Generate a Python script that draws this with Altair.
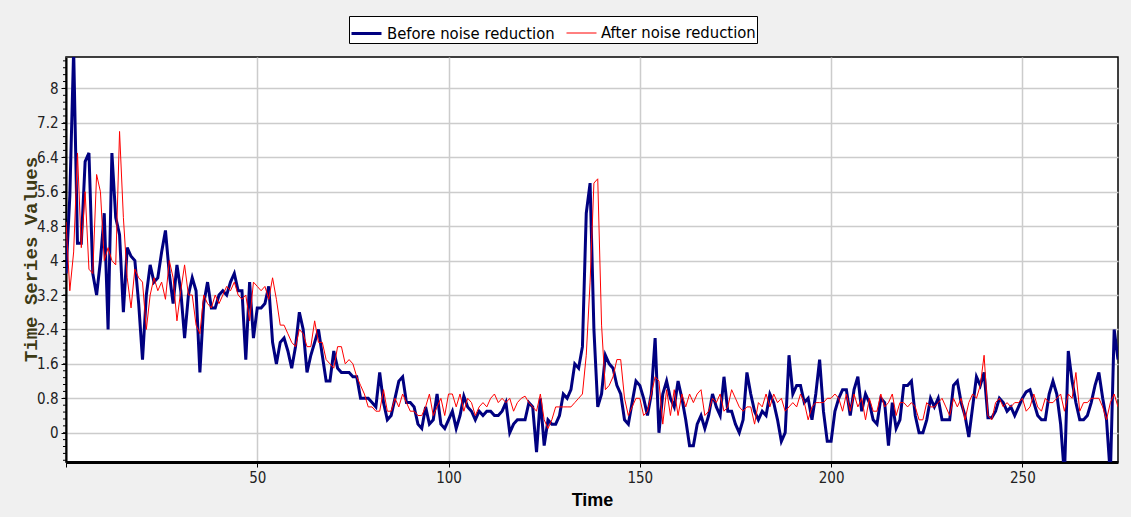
import altair as alt
import pandas as pd

# ---- data (Time 0..275) ----
before_0_50 = [3.7, 5.5, 8.9, 4.4, 4.4, 6.3, 6.5, 3.7, 3.2, 4.0, 5.1, 2.4, 6.5, 5.0, 4.6, 2.8, 4.3, 4.1, 4.0, 3.0,
               1.7, 3.2, 3.9, 3.5, 3.6, 4.2, 4.7, 3.7, 3.0, 3.9, 3.3, 2.2, 3.2, 3.6, 3.3, 1.4, 3.0, 3.5, 2.9, 2.9,
               3.2, 3.3, 3.2, 3.5, 3.7, 3.3, 3.3, 1.7, 3.5, 2.2, 2.9]
before_51_100 = [2.9, 3.0, 3.4, 2.1, 1.6, 2.1, 2.2, 1.9, 1.5, 2.0, 2.8, 2.4, 1.4, 1.8, 2.1, 2.4, 1.8, 1.2, 1.2, 1.9,
                 1.5, 1.4, 1.4, 1.4, 1.3, 1.3, 0.8, 0.8, 0.8, 0.7, 0.6, 1.4, 0.7, 0.3, 0.4, 0.8, 1.2, 1.3, 0.7, 0.7,
                 0.6, 0.2, 0.1, 0.6, 0.2, 0.3, 0.9, 0.2, 0.1, 0.3]
before_101_150 = [0.5, 0.1, 0.4, 0.85, 0.6, 0.5, 0.3, 0.5, 0.4, 0.5, 0.5, 0.4, 0.4, 0.5, 0.7, 0.0, 0.2, 0.3, 0.3, 0.3,
                  0.7, 0.6, -0.45, 0.8, -0.3, 0.3, 0.2, 0.2, 0.4, 0.9, 0.8, 1.0, 1.6, 1.5, 2.0, 5.1, 5.8, 2.4, 0.6, 0.9,
                  1.8, 1.6, 1.5, 1.1, 0.9, 0.3, 0.2, 0.7, 1.2, 1.1]
before_151_200 = [0.8, 0.4, 0.9, 2.2, 0.0, 0.9, 1.2, 0.8, 0.6, 1.2, 0.8, 0.3, -0.3, -0.3, 0.2, 0.4, 0.1, 0.4, 0.9, 0.6,
                  0.4, 1.3, 0.5, 0.5, 0.2, 0.0, 0.3, 1.4, 0.9, 0.5, 0.3, 0.5, 0.4, 0.9, 0.7, 0.3, -0.2, 0.0, 1.8, 0.9,
                  1.1, 1.1, 0.7, 0.8, 0.3, 0.9, 1.7, 0.5, -0.2, -0.2]
before_201_250 = [0.5, 0.8, 1.0, 1.0, 0.4, 1.0, 1.3, 0.5, 0.9, 0.7, 0.3, 0.2, 0.8, 0.7, -0.3, 0.7, 0.1, 0.3, 1.1, 1.1,
                  1.2, 0.4, 0.0, 0.0, 0.3, 0.8, 0.6, 0.8, 0.3, 0.3, 0.3, 1.1, 1.2, 0.7, 0.4, -0.1, 0.6, 1.3, 1.1, 1.4,
                  0.35, 0.35, 0.5, 0.8, 0.7, 0.5, 0.6, 0.4, 0.6, 0.8]
before_251_275 = [0.95, 1.0, 0.7, 0.4, 0.3, 0.3, 0.9, 1.2, 0.9, 0.2, -1.0, 1.9, 1.2, 0.7, 0.3, 0.3, 0.4, 0.7, 1.1, 1.4,
                  0.8, 0.3, -1.0, 2.4, 1.7]

after_0_50 = [4.9, 3.3, 4.2, 6.5, 4.3, 5.6, 3.8, 3.7, 6.0, 5.6, 4.0, 4.3, 4.0, 3.9, 7.0, 5.0, 3.6, 2.9, 3.8, 3.6,
              3.5, 2.4, 3.2, 3.6, 3.3, 3.5, 3.1, 4.0, 3.6, 2.6, 3.3, 3.9, 3.2, 3.2, 2.5, 2.3, 3.2, 3.0, 2.9, 3.2,
              3.0, 3.2, 3.4, 3.3, 3.5, 3.2, 3.1, 3.2, 2.6, 3.5, 3.4]
after_51_100 = [3.3, 3.4, 3.1, 3.6, 3.1, 2.5, 2.5, 2.3, 2.1, 2.0, 2.4, 2.3, 2.0, 2.0, 2.6, 2.1, 2.1, 1.7, 1.6, 1.5,
                2.0, 2.0, 1.6, 1.7, 1.6, 1.3, 1.1, 0.9, 0.6, 0.6, 0.5, 0.5, 1.0, 0.5, 0.5, 0.8, 0.6, 0.9, 0.7, 0.5,
                0.5, 0.4, 0.4, 0.6, 0.9, 0.4, 0.6, 0.8, 0.4, 0.9]
after_101_150 = [0.9, 0.6, 0.9, 0.5, 0.8, 0.7, 0.4, 0.6, 0.7, 0.6, 0.8, 0.9, 0.7, 0.8, 0.7, 0.8, 0.5, 0.7, 0.8, 0.85,
                 0.7, 0.6, 0.5, 0.9, 0.3, 0.1, 0.3, 0.6, 0.6, 0.6, 0.6, 0.6, 0.7, 0.8, 0.9, 1.8, 3.5, 5.8, 5.9, 2.5,
                 1.0, 1.1, 1.3, 1.7, 1.7, 0.8, 0.4, 0.6, 0.8, 0.8]
after_151_200 = [0.4, 0.5, 0.9, 1.3, 1.2, 0.2, 1.0, 0.4, 1.0, 0.4, 0.9, 0.6, 0.9, 0.7, 0.9, 1.0, 0.4, 0.5, 0.8, 0.7,
                 0.9, 0.5, 0.6, 1.0, 0.8, 0.6, 0.5, 0.6, 0.6, 0.2, 0.7, 0.6, 0.9, 0.6, 0.9, 0.7, 0.8, 0.5, 0.6, 0.7,
                 0.6, 0.9, 0.7, 0.3, 0.6, 0.7, 0.7, 0.7, 0.8, 0.8]
after_201_250 = [0.9, 0.8, 0.5, 0.9, 0.5, 0.9, 0.6, 0.8, 0.3, 0.8, 0.5, 0.5, 0.9, 0.6, 0.7, 0.9, 0.4, 0.7, 0.7, 0.6,
                 0.7, 0.6, 0.3, 0.3, 0.7, 0.6, 0.6, 0.7, 0.8, 0.6, 0.4, 0.8, 0.6, 0.8, 0.3, 0.7, 0.9, 0.8, 1.1, 1.8,
                 0.4, 0.3, 0.7, 0.8, 0.6, 0.7, 0.6, 0.7, 0.7, 0.8]
after_251_275 = [0.5, 0.6, 0.9, 0.6, 0.5, 0.8, 0.7, 0.7, 0.8, 0.9, 0.5, 0.9, 0.8, 1.4, 0.5, 0.7, 0.7, 0.8, 0.8, 0.8,
                 0.6, 0.3, 0.7, 0.9, 0.6]

series_names = ["Before noise reduction", "After noise reduction"]
series_colors = ["#000080", "#ff0000"]
series_widths = [3, 1]

y_tick_values = [0, 0.8, 1.6, 2.4, 3.2, 4.0, 4.8, 5.6, 6.4, 7.2, 8.0]
y_minor_values = [round(k * 0.16, 2) for k in range(-4, 55)]
x_tick_values = [0, 50, 100, 150, 200, 250]

before = before_0_50 + before_51_100 + before_101_150 + before_151_200 + before_201_250 + before_251_275
after = after_0_50 + after_51_100 + after_101_150 + after_151_200 + after_201_250 + after_251_275

df_b = pd.DataFrame({"Time": list(range(len(before))), "Value": before, "Series": series_names[0]})
df_a = pd.DataFrame({"Time": list(range(len(after))), "Value": after, "Series": series_names[1]})
df_minor = pd.DataFrame({"Value": y_minor_values})

NARROW = "Liberation Sans Narrow, Arial Narrow, DejaVu Sans Condensed, sans-serif"

x_scale = alt.Scale(domain=[0, 275], nice=False, zero=False)
y_scale = alt.Scale(domain=[-0.68, 8.73], nice=False, zero=False)

x_enc = alt.X(
    "Time:Q",
    scale=x_scale,
    axis=alt.Axis(
        values=x_tick_values,
        labelExpr="datum.value == 0 ? '' : datum.label",
        title="Time",
        titleFont="Liberation Sans",
        titleFontSize=18,
        titleFontWeight="bold",
        titleColor="#000000",
        titlePadding=6,
        labelFont=NARROW,
        labelFontSize=15,
        labelColor="#222222",
        labelPadding=3,
        tickSize=5,
        tickColor="#000000",
        domainColor="#000000",
        domainWidth=3,
        grid=True,
        gridColor="#cccccc",
        gridWidth=1.5,
    ),
)

y_axis = alt.Axis(
    values=y_tick_values,
    format=".2~f",
    title="Time Series Values",
    titleFont="Liberation Mono",
    titleFontSize=19,
    titleFontWeight="bold",
    titleColor="#3d3a14",
    titleAngle=270,
    titleAlign="center",
    titleBaseline="middle",
    titleX=-36,
    titleY=202,
    labelFont=NARROW,
    labelFontSize=15,
    labelColor="#222222",
    labelPadding=3,
    tickSize=5,
    tickColor="#000000",
    domainColor="#000000",
    domainWidth=2,
    grid=True,
    gridColor="#cccccc",
    gridWidth=1.5,
)
y_enc = alt.Y("Value:Q", scale=y_scale, axis=y_axis)

legend = alt.Legend(
    title=None,
    orient="none",
    legendX=283,
    legendY=-41,
    direction="horizontal",
    symbolType="stroke",
    symbolSize=900,
    labelFont=NARROW,
    labelFontSize=16.5,
    labelColor="#000000",
    labelLimit=400,
    labelOffset=4,
    labelExpr="datum.label == 'After noise reduction' ? datum.label + '\u00a0\u00a0\u00a0\u00a0\u00a0' : datum.label",
    columnPadding=9,
    padding=1,
    strokeColor="#000000",
    fillColor="#ffffff",
)

color_enc = alt.Color("Series:N", scale=alt.Scale(domain=series_names, range=series_colors), legend=legend)
width_enc = alt.StrokeWidth("Series:N", scale=alt.Scale(domain=series_names, range=series_widths), legend=legend)

minor = alt.Chart(df_minor).mark_rule(color="#000000", strokeWidth=1, clip=False).encode(
    y=alt.Y("Value:Q", scale=y_scale, axis=y_axis), x=alt.value(-3), x2=alt.value(0)
)
blue = alt.Chart(df_b).mark_line(clip=True).encode(x=x_enc, y=y_enc, color=color_enc, strokeWidth=width_enc)
red = alt.Chart(df_a).mark_line(clip=True).encode(x=x_enc, y=y_enc, color=color_enc, strokeWidth=width_enc)

chart = (
    alt.layer(minor, blue, red)
    .properties(
        width=1052,
        height=405,
        background="#f0f0f0",
        padding={"left": 66, "top": 57, "right": 13, "bottom": 55},
        autosize=alt.AutoSizeParams(type="none"),
    )
    .configure_view(fill="#ffffff", stroke="#000000", strokeWidth=1.5)
)

chart.save("out.html", embed_options={"renderer": "svg", "actions": False})
